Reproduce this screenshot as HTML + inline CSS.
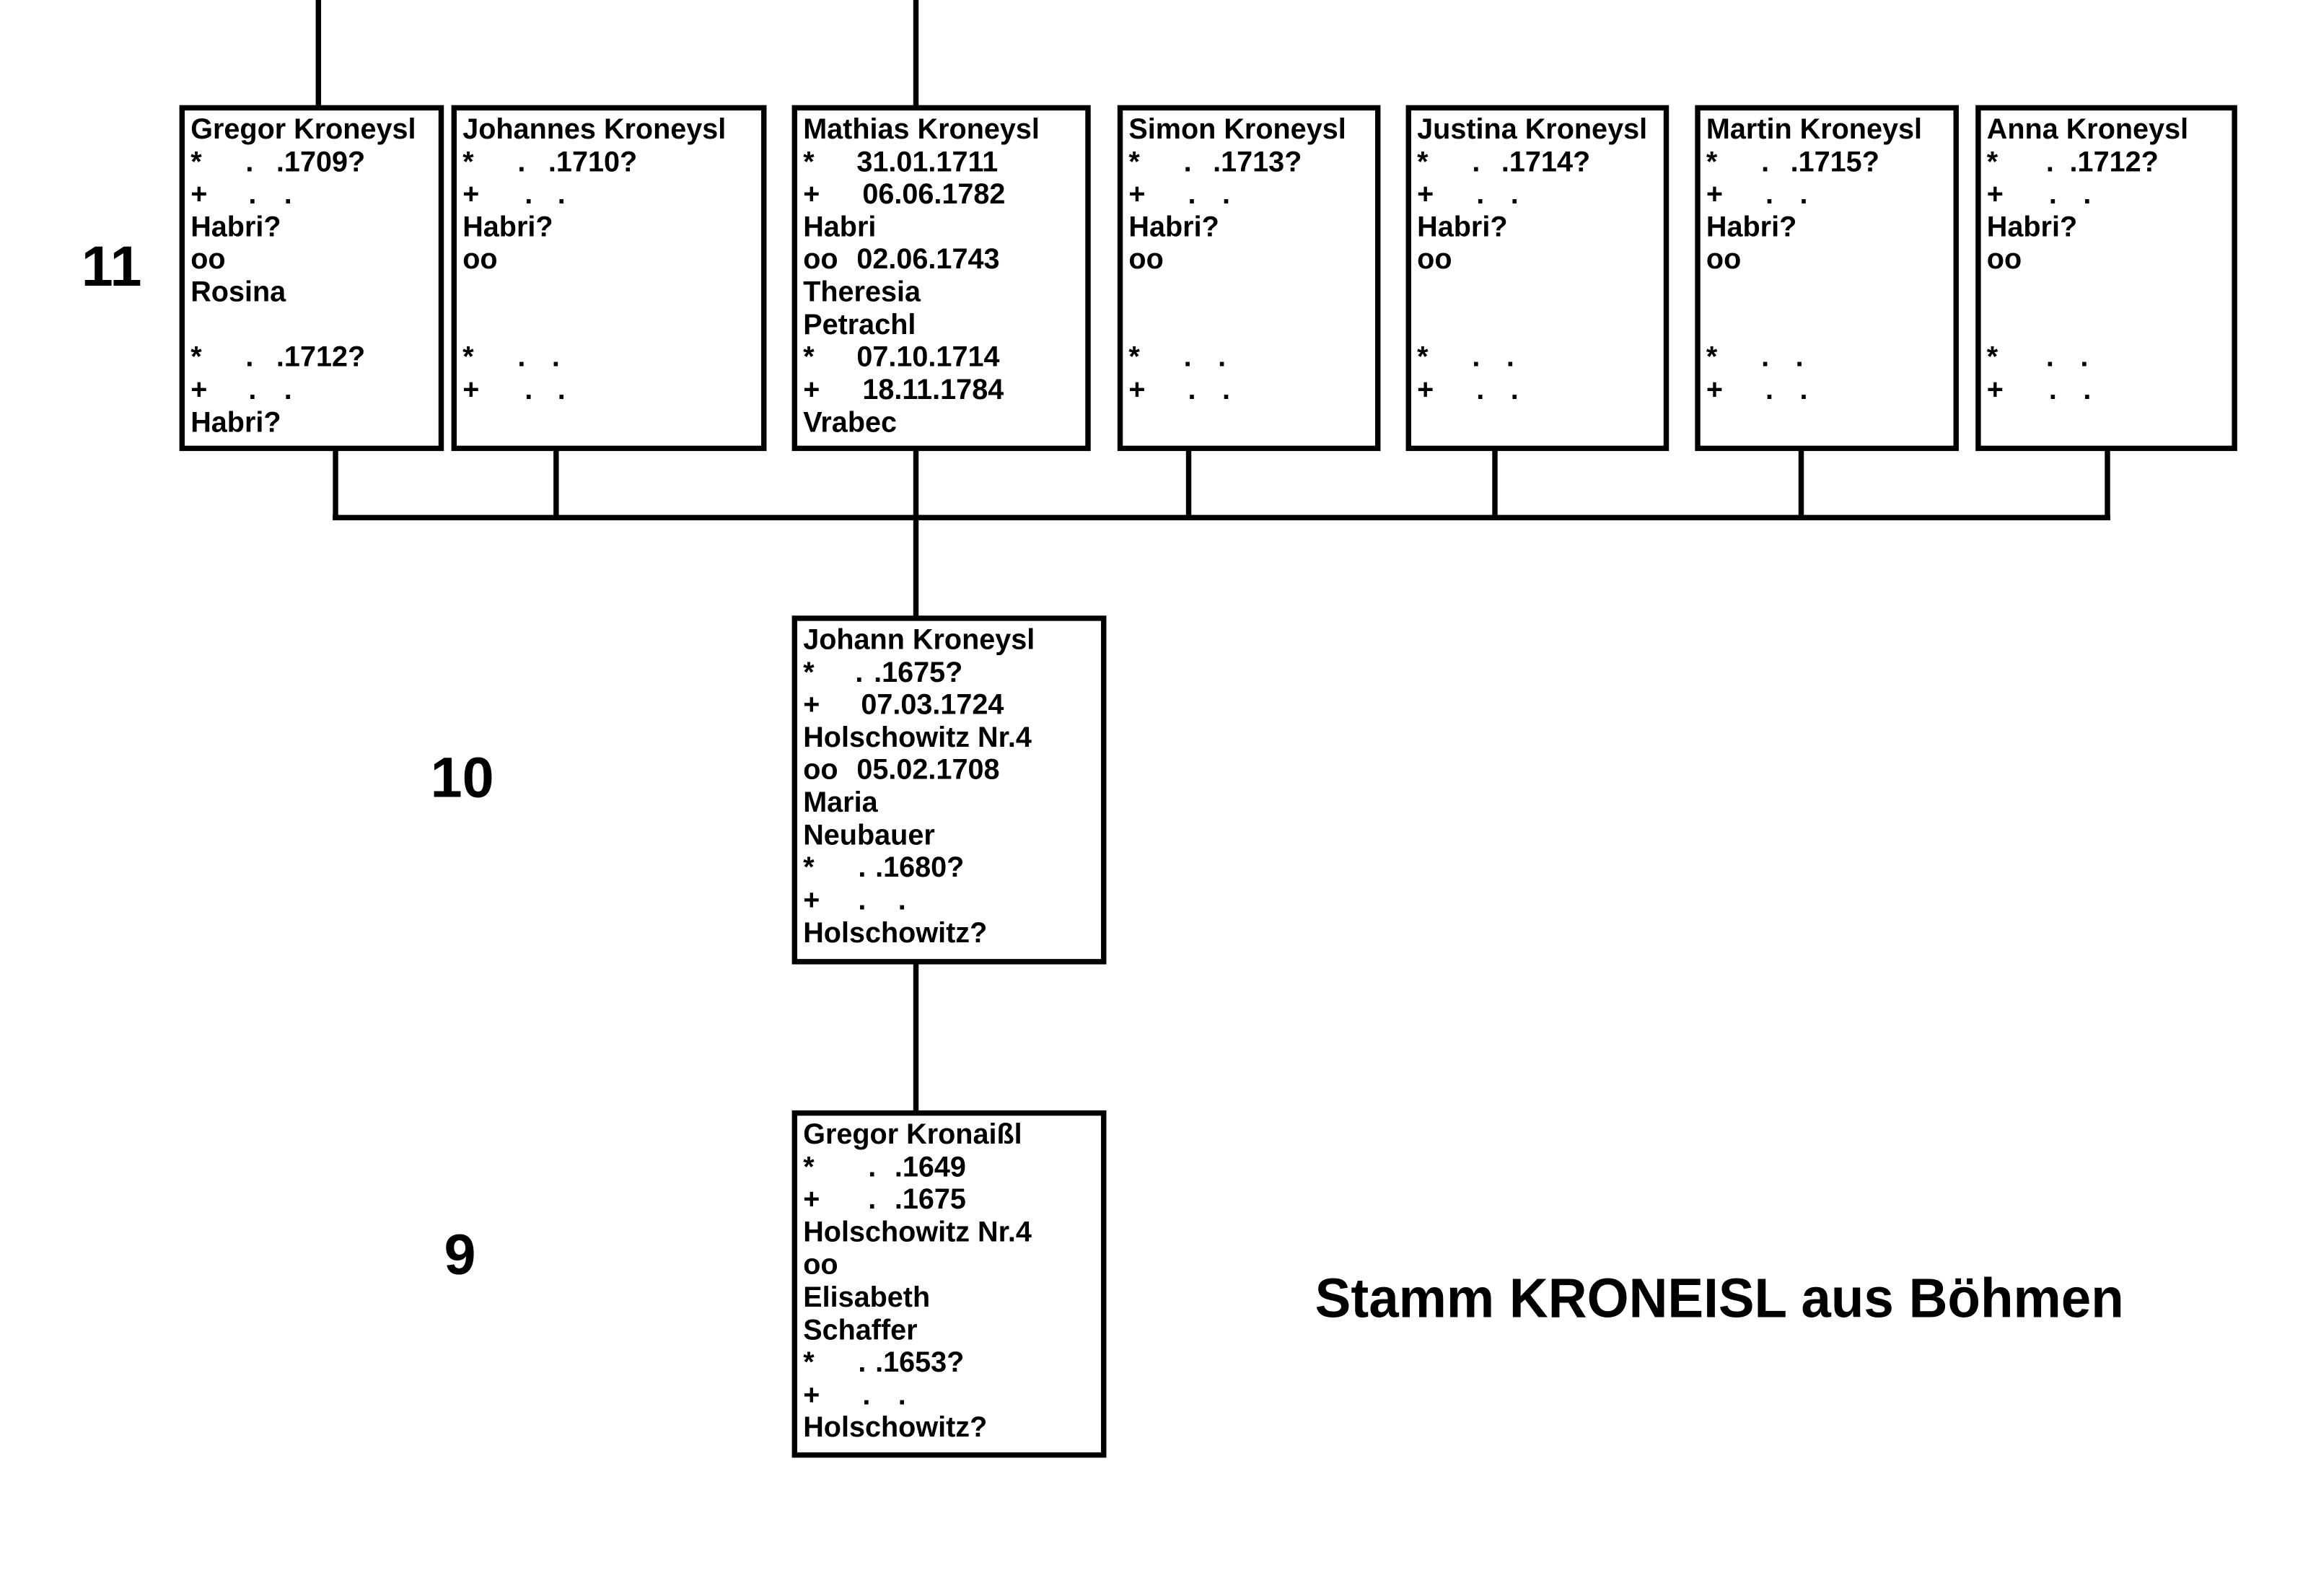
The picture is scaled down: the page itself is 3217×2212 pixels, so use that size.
<!DOCTYPE html>
<html><head><meta charset="utf-8"><style>
html,body{margin:0;padding:0;background:#fff;}
svg{display:block;}
text{font-family:"Liberation Sans",Arial,sans-serif;font-weight:bold;fill:#000;}
.t{font-size:40px;}
</style></head><body>
<svg width="3217" height="2212" viewBox="0 0 3217 2212" xmlns="http://www.w3.org/2000/svg">
<g transform="scale(0.9895)">
<g stroke="#000" stroke-width="7.5" fill="none">
<line x1="446" y1="0" x2="446" y2="151"/>
<line x1="1283" y1="0" x2="1283" y2="151"/>
<rect x="255" y="151" width="363" height="477"/>
<rect x="636" y="151" width="434" height="477"/>
<rect x="1113" y="151" width="411" height="477"/>
<rect x="1569" y="151" width="361" height="477"/>
<rect x="1973" y="151" width="361" height="477"/>
<rect x="2378" y="151" width="362" height="477"/>
<rect x="2771" y="151" width="359" height="477"/>
<line x1="470" y1="628" x2="470" y2="725"/>
<line x1="779" y1="628" x2="779" y2="725"/>
<line x1="1283" y1="628" x2="1283" y2="866"/>
<line x1="1665" y1="628" x2="1665" y2="725"/>
<line x1="2094" y1="628" x2="2094" y2="725"/>
<line x1="2523" y1="628" x2="2523" y2="725"/>
<line x1="2952" y1="628" x2="2952" y2="725"/>
<line x1="466" y1="725" x2="2956" y2="725"/>
<rect x="1113" y="866" width="433" height="481"/>
<line x1="1283" y1="1347" x2="1283" y2="1559"/>
<rect x="1113" y="1559" width="433" height="479"/>
</g>

<text x="114" y="400" font-size="80">11</text>
<text x="603" y="1116" font-size="80">10</text>
<text x="622" y="1784" font-size="80">9</text>
<text x="1842" y="1845" font-size="78" textLength="1133" lengthAdjust="spacingAndGlyphs">Stamm KRONEISL aus Böhmen</text>

<g transform="translate(267,0)">
<text class="t" x="0" y="194">Gregor Kroneysl</text>
<text class="t" y="240"><tspan x="0">*</tspan><tspan x="77">.</tspan><tspan x="120">.1709?</tspan></text>
<text class="t" y="285"><tspan x="0">+</tspan><tspan x="81">.</tspan><tspan x="131">.</tspan></text>
<text class="t" x="0" y="331">Habri?</text>
<text class="t" x="0" y="376">oo</text>
<text class="t" x="0" y="422">Rosina</text>
<text class="t" y="513"><tspan x="0">*</tspan><tspan x="77">.</tspan><tspan x="120">.1712?</tspan></text>
<text class="t" y="559"><tspan x="0">+</tspan><tspan x="81">.</tspan><tspan x="131">.</tspan></text>
<text class="t" x="0" y="605">Habri?</text>
</g>
<g transform="translate(648,0)">
<text class="t" x="0" y="194">Johannes Kroneysl</text>
<text class="t" y="240"><tspan x="0">*</tspan><tspan x="77">.</tspan><tspan x="120">.1710?</tspan></text>
<text class="t" y="285"><tspan x="0">+</tspan><tspan x="87">.</tspan><tspan x="133">.</tspan></text>
<text class="t" x="0" y="331">Habri?</text>
<text class="t" x="0" y="376">oo</text>
<text class="t" y="513"><tspan x="0">*</tspan><tspan x="77">.</tspan><tspan x="125">.</tspan></text>
<text class="t" y="559"><tspan x="0">+</tspan><tspan x="87">.</tspan><tspan x="133">.</tspan></text>
</g>
<g transform="translate(1125,0)">
<text class="t" x="0" y="194">Mathias Kroneysl</text>
<text class="t" y="240"><tspan x="0">*</tspan><tspan x="75">31.01.1711</tspan></text>
<text class="t" y="285"><tspan x="0">+</tspan><tspan x="83">06.06.1782</tspan></text>
<text class="t" x="0" y="331">Habri</text>
<text class="t" y="376"><tspan x="0">oo</tspan><tspan x="75">02.06.1743</tspan></text>
<text class="t" x="0" y="422">Theresia</text>
<text class="t" x="0" y="468">Petrachl</text>
<text class="t" y="513"><tspan x="0">*</tspan><tspan x="75">07.10.1714</tspan></text>
<text class="t" y="559"><tspan x="0">+</tspan><tspan x="83">18.11.1784</tspan></text>
<text class="t" x="0" y="605">Vrabec</text>
</g>
<g transform="translate(1581,0)">
<text class="t" x="0" y="194">Simon Kroneysl</text>
<text class="t" y="240"><tspan x="0">*</tspan><tspan x="77">.</tspan><tspan x="118">.1713?</tspan></text>
<text class="t" y="285"><tspan x="0">+</tspan><tspan x="83">.</tspan><tspan x="131">.</tspan></text>
<text class="t" x="0" y="331">Habri?</text>
<text class="t" x="0" y="376">oo</text>
<text class="t" y="513"><tspan x="0">*</tspan><tspan x="77">.</tspan><tspan x="125">.</tspan></text>
<text class="t" y="559"><tspan x="0">+</tspan><tspan x="83">.</tspan><tspan x="131">.</tspan></text>
</g>
<g transform="translate(1985,0)">
<text class="t" x="0" y="194">Justina Kroneysl</text>
<text class="t" y="240"><tspan x="0">*</tspan><tspan x="77">.</tspan><tspan x="118">.1714?</tspan></text>
<text class="t" y="285"><tspan x="0">+</tspan><tspan x="83">.</tspan><tspan x="131">.</tspan></text>
<text class="t" x="0" y="331">Habri?</text>
<text class="t" x="0" y="376">oo</text>
<text class="t" y="513"><tspan x="0">*</tspan><tspan x="77">.</tspan><tspan x="125">.</tspan></text>
<text class="t" y="559"><tspan x="0">+</tspan><tspan x="83">.</tspan><tspan x="131">.</tspan></text>
</g>
<g transform="translate(2390,0)">
<text class="t" x="0" y="194">Martin Kroneysl</text>
<text class="t" y="240"><tspan x="0">*</tspan><tspan x="77">.</tspan><tspan x="118">.1715?</tspan></text>
<text class="t" y="285"><tspan x="0">+</tspan><tspan x="83">.</tspan><tspan x="131">.</tspan></text>
<text class="t" x="0" y="331">Habri?</text>
<text class="t" x="0" y="376">oo</text>
<text class="t" y="513"><tspan x="0">*</tspan><tspan x="77">.</tspan><tspan x="125">.</tspan></text>
<text class="t" y="559"><tspan x="0">+</tspan><tspan x="83">.</tspan><tspan x="131">.</tspan></text>
</g>
<g transform="translate(2783,0)">
<text class="t" x="0" y="194">Anna Kroneysl</text>
<text class="t" y="240"><tspan x="0">*</tspan><tspan x="83">.</tspan><tspan x="116">.1712?</tspan></text>
<text class="t" y="285"><tspan x="0">+</tspan><tspan x="87">.</tspan><tspan x="135">.</tspan></text>
<text class="t" x="0" y="331">Habri?</text>
<text class="t" x="0" y="376">oo</text>
<text class="t" y="513"><tspan x="0">*</tspan><tspan x="83">.</tspan><tspan x="131">.</tspan></text>
<text class="t" y="559"><tspan x="0">+</tspan><tspan x="87">.</tspan><tspan x="135">.</tspan></text>
</g>
<g transform="translate(1125,0)">
<text class="t" x="0" y="909">Johann Kroneysl</text>
<text class="t" y="955"><tspan x="0">*</tspan><tspan x="73">.</tspan><tspan x="99">.1675?</tspan></text>
<text class="t" y="1000"><tspan x="0">+</tspan><tspan x="81">07.03.1724</tspan></text>
<text class="t" x="0" y="1046">Holschowitz Nr.4</text>
<text class="t" y="1091"><tspan x="0">oo</tspan><tspan x="75">05.02.1708</tspan></text>
<text class="t" x="0" y="1137">Maria</text>
<text class="t" x="0" y="1183">Neubauer</text>
<text class="t" y="1228"><tspan x="0">*</tspan><tspan x="77">.</tspan><tspan x="101">.1680?</tspan></text>
<text class="t" y="1274"><tspan x="0">+</tspan><tspan x="77">.</tspan><tspan x="133">.</tspan></text>
<text class="t" x="0" y="1320">Holschowitz?</text>
</g>
<g transform="translate(1125,0)">
<text class="t" x="0" y="1602">Gregor Kronaißl</text>
<text class="t" y="1648"><tspan x="0">*</tspan><tspan x="91">.</tspan><tspan x="128">.1649</tspan></text>
<text class="t" y="1693"><tspan x="0">+</tspan><tspan x="91">.</tspan><tspan x="128">.1675</tspan></text>
<text class="t" x="0" y="1739">Holschowitz Nr.4</text>
<text class="t" x="0" y="1784">oo</text>
<text class="t" x="0" y="1830">Elisabeth</text>
<text class="t" x="0" y="1876">Schaffer</text>
<text class="t" y="1921"><tspan x="0">*</tspan><tspan x="77">.</tspan><tspan x="101">.1653?</tspan></text>
<text class="t" y="1967"><tspan x="0">+</tspan><tspan x="83">.</tspan><tspan x="133">.</tspan></text>
<text class="t" x="0" y="2012">Holschowitz?</text>
</g>
</g>
</svg>
</body></html>
